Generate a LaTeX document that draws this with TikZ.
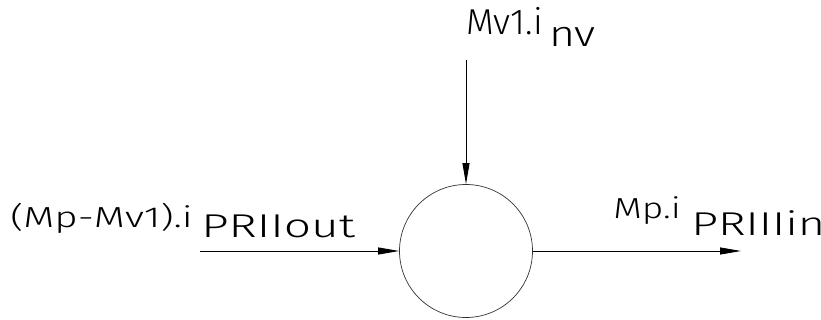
\documentclass[tikz,border=0pt]{standalone}
\usepackage{fontspec}
\setmainfont{Fira Sans}[UprightFont=* Light]
\usetikzlibrary{arrows.meta}
\newcommand\lab[6]{%
  \begin{scope}[shift={(#2,#3)}, xscale=#4]
    \node[lbl, transform shape, font=\fontsize{#5}{#5}\selectfont] (#1) at (0,0) {#6};
  \end{scope}}
\begin{document}
\begin{tikzpicture}[x=1pt,y=1pt,
  lbl/.style={inner sep=0pt, anchor=base west, text=black},
  flow/.style={line width=0.9pt, -{Triangle[length=21pt,width=7pt]}},
  ball/.style={circle, draw=black!80, line width=0.7pt, minimum size=133pt, inner sep=0pt}]
\useasboundingbox (0,0) rectangle (821,-320);
\node[ball] (c) at (466,-251) {};
\coordinate (lin) at (200,-251);
\coordinate (top) at (466,-60);
\coordinate (rout) at (741,-251);
\draw[flow] (lin) -- (c.west);
\draw[flow] (top) -- (c.north);
\draw[flow] (c.east) -- (rout);
\lab{t1}{10}{-228}{1.39}{29}{(Mp-Mv1).i}
\lab{t1s}{201}{-237}{1.45}{33}{PRIIout}
\lab{t2}{466}{-35}{1.0}{36}{Mv1.i}
\lab{t2s}{549}{-47}{1.24}{36}{nv}
\lab{t3}{613}{-219}{1.28}{29}{Mp.i}
\lab{t3s}{691}{-236}{1.42}{33}{PRIIIin}
\end{tikzpicture}
\end{document}
